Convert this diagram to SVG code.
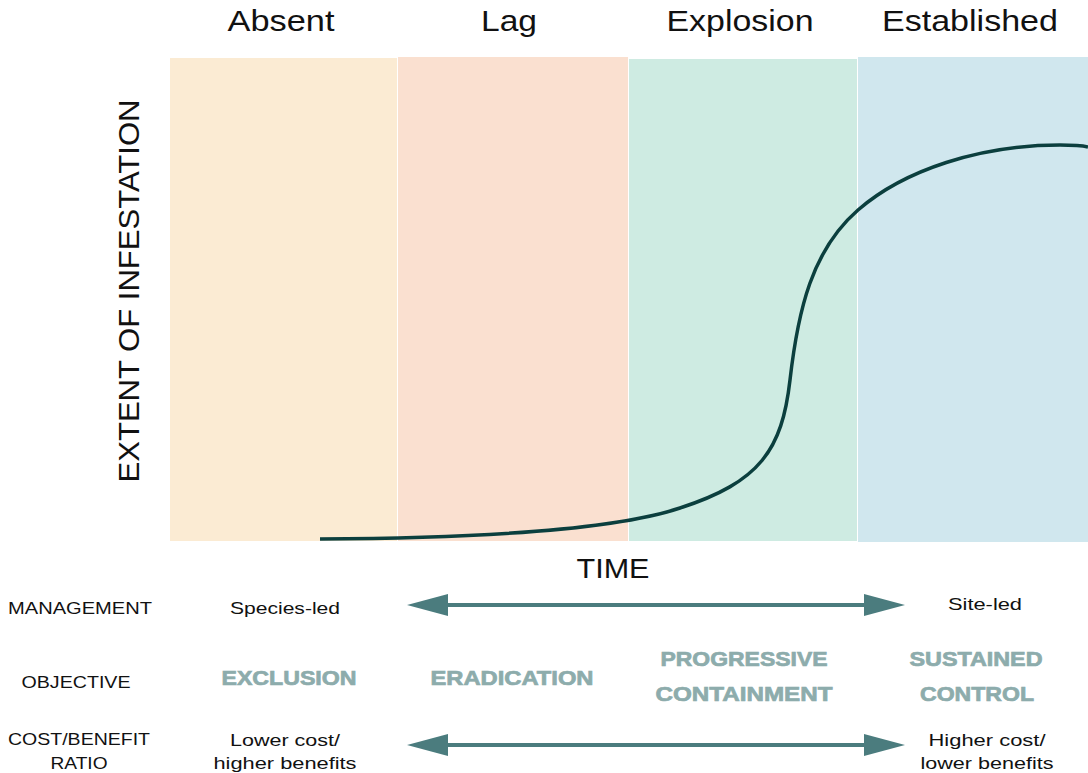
<svg xmlns="http://www.w3.org/2000/svg" width="1088" height="773" viewBox="0 0 1088 773">
<defs>
<style>
text{font-family:"Liberation Sans",Arial,sans-serif;fill:#111;text-anchor:middle}
.title{font-size:29px}
.axis{font-size:30px}
.lbl{font-size:17px}
.obj{font-size:20px;font-weight:bold;fill:#8DACAC;stroke:#8DACAC;stroke-width:0.7}
.arrow{stroke:#4B7C7E;stroke-width:4;fill:none}
.head{fill:#4B7C7E}
</style>
</defs>
<rect width="1088" height="773" fill="#fff"/>
<g id="phases">
<g id="absent"><rect x="170" y="58" width="227" height="483" fill="#FBEBD3"/><text class="title" x="281" y="31" textLength="107" lengthAdjust="spacingAndGlyphs">Absent</text></g>
<g id="lag"><rect x="398" y="57" width="230" height="484" fill="#FAE0D0"/><text class="title" x="509" y="31" textLength="56" lengthAdjust="spacingAndGlyphs">Lag</text></g>
<g id="explosion"><rect x="629" y="59" width="228" height="482" fill="#CEEBE2"/><text class="title" x="740" y="31" textLength="147" lengthAdjust="spacingAndGlyphs">Explosion</text></g>
<g id="established"><rect x="858" y="57" width="230" height="485" fill="#D0E7EE"/><text class="title" x="970" y="31" textLength="176" lengthAdjust="spacingAndGlyphs">Established</text></g>
</g>
<g id="axes">
<text class="axis" transform="translate(139,291) rotate(-90)" textLength="383" lengthAdjust="spacingAndGlyphs">EXTENT OF INFESTATION</text>
<text class="axis" x="613" y="578" style="font-size:27px" textLength="73" lengthAdjust="spacingAndGlyphs">TIME</text>
</g>
<g id="curve">
<path d="M320,539 C500,538 620,528 680,508 C760,482 782,450 790,380 C798,310 812,250 858,210 C904,170 980,145 1060,145 C1075,145 1084,146 1088,147" fill="none" stroke="#0B3F3E" stroke-width="3.5"/>
</g>
<g id="row-management">
<text class="lbl" x="80" y="614" textLength="144" lengthAdjust="spacingAndGlyphs">MANAGEMENT</text>
<text class="lbl" x="285" y="614" textLength="110" lengthAdjust="spacingAndGlyphs">Species-led</text>
<text class="lbl" x="985" y="610" textLength="74" lengthAdjust="spacingAndGlyphs">Site-led</text>
</g>
<g id="row-objective">
<text class="lbl" x="76" y="688" textLength="109" lengthAdjust="spacingAndGlyphs">OBJECTIVE</text>
<text class="obj" x="289" y="685" textLength="135" lengthAdjust="spacingAndGlyphs">EXCLUSION</text>
<text class="obj" x="512" y="685" textLength="163" lengthAdjust="spacingAndGlyphs">ERADICATION</text>
<text class="obj" x="744" y="666" textLength="167" lengthAdjust="spacingAndGlyphs">PROGRESSIVE</text>
<text class="obj" x="744" y="701" textLength="177" lengthAdjust="spacingAndGlyphs">CONTAINMENT</text>
<text class="obj" x="976" y="666" textLength="133" lengthAdjust="spacingAndGlyphs">SUSTAINED</text>
<text class="obj" x="977" y="701" textLength="114" lengthAdjust="spacingAndGlyphs">CONTROL</text>
</g>
<g id="row-cost">
<text class="lbl" x="79" y="745" textLength="142" lengthAdjust="spacingAndGlyphs">COST/BENEFIT</text>
<text class="lbl" x="79" y="769" textLength="57" lengthAdjust="spacingAndGlyphs">RATIO</text>
<text class="lbl" x="285" y="746" textLength="110" lengthAdjust="spacingAndGlyphs">Lower cost/</text>
<text class="lbl" x="285" y="769" textLength="143" lengthAdjust="spacingAndGlyphs">higher benefits</text>
<text class="lbl" x="987" y="746" textLength="117" lengthAdjust="spacingAndGlyphs">Higher cost/</text>
<text class="lbl" x="987" y="769" textLength="133" lengthAdjust="spacingAndGlyphs">lower benefits</text>
</g>
<g id="connectors">
<line class="arrow" x1="440" y1="605" x2="872" y2="605"/>
<polygon class="head" points="407,605 448,594 448,616"/>
<polygon class="head" points="905,605 864,594 864,616"/>
<line class="arrow" x1="440" y1="745" x2="872" y2="745"/>
<polygon class="head" points="407,745 448,734 448,756"/>
<polygon class="head" points="905,745 864,734 864,756"/>
</g>
</svg>
